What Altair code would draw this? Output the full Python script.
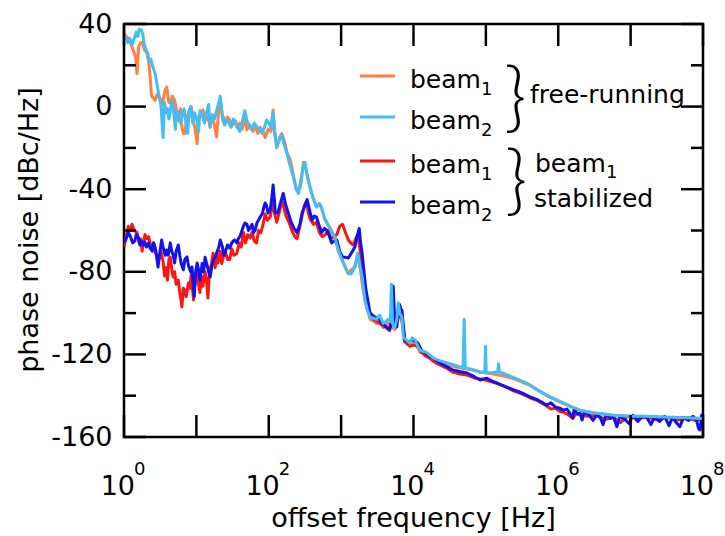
import altair as alt
import pandas as pd

FONT = "DejaVu Sans"
W, H = 579, 413

# (log10 offset frequency, phase noise dBc/Hz)
free_beam1 = [(0.00, 35.5), (0.03, 34), (0.06, 33), (0.10, 30), (0.13, 27), (0.16, 24), (0.18, 16), (0.20, 29),
              (0.23, 31), (0.25, 31), (0.29, 27), (0.33, 26), (0.36, 15), (0.38, 5), (0.41, 4), (0.43, 3),
              (0.46, 6), (0.50, 4), (0.53, 1), (0.56, 7), (0.59, 9.5), (0.62, 2), (0.64, 1.7), (0.67, 5),
              (0.70, 3), (0.73, -3), (0.76, -7), (0.78, -1), (0.80, -10), (0.82, -13), (0.84, -13), (0.87, -5),
              (0.90, -2), (0.93, 0), (0.96, -8), (0.98, -10), (1.01, -18), (1.03, -6), (1.06, -3), (1.09, -1.6),
              (1.12, -7), (1.16, -5), (1.19, -10), (1.22, -4), (1.25, -9), (1.28, -14.7), (1.30, -5), (1.33, 3),
              (1.36, -4), (1.40, -8), (1.43, -5), (1.46, -6.5), (1.50, -9), (1.53, -7), (1.56, -10), (1.60, -8),
              (1.63, -11), (1.67, -6), (1.70, -11.3), (1.74, -9), (1.78, -12), (1.82, -10), (1.85, -13),
              (1.88, -10), (1.92, -12), (1.95, -15), (1.99, -11), (2.03, -12), (2.06, -1.6), (2.08, -13),
              (2.11, -20), (2.15, -15), (2.18, -13), (2.22, -17), (2.25, -22), (2.30, -26), (2.34, -33),
              (2.38, -40), (2.41, -41), (2.45, -35), (2.48, -27), (2.51, -30), (2.54, -35), (2.57, -39),
              (2.61, -44), (2.66, -48.6), (2.70, -47), (2.73, -49), (2.77, -54), (2.80, -56), (2.85, -59),
              (2.91, -63), (2.96, -70), (3.01, -74), (3.06, -78), (3.10, -81), (3.14, -79), (3.19, -78),
              (3.23, -72), (3.27, -80), (3.30, -88), (3.33, -94), (3.37, -99), (3.40, -103), (3.45, -104),
              (3.49, -105), (3.53, -103), (3.58, -107), (3.62, -105), (3.65, -105), (3.68, -106), (3.74, -108),
              (3.79, -100), (3.84, -104), (3.87, -113), (3.95, -116), (4.02, -114), (4.09, -119), (4.18, -120),
              (4.27, -122.5), (4.46, -125), (4.64, -126.5), (4.80, -127.5), (4.95, -128.8), (5.10, -129.5),
              (5.25, -130.5), (5.40, -132), (5.61, -135), (5.84, -140), (6.07, -143.8), (6.30, -147),
              (6.53, -148.5), (6.76, -149.5), (7.00, -150), (7.22, -150.2), (7.50, -150.5), (7.70, -150.6),
              (8.00, -151)]

free_beam2 = [(0.00, 34), (0.03, 33), (0.05, 31), (0.08, 33), (0.11, 30), (0.14, 33), (0.17, 36), (0.19, 34),
              (0.21, 37.5), (0.24, 37), (0.26, 35), (0.28, 30), (0.31, 27), (0.34, 22), (0.37, 23), (0.40, 19),
              (0.43, 16), (0.46, 10), (0.49, 4), (0.51, 1), (0.54, -15), (0.56, 2), (0.58, -3), (0.60, -1),
              (0.62, -6), (0.65, 0), (0.67, 3), (0.69, -4), (0.71, -11), (0.73, -2), (0.76, -3), (0.78, -8),
              (0.80, -5), (0.83, -1), (0.86, -9), (0.88, -13), (0.90, -2), (0.92, 0), (0.95, -8), (0.97, -3),
              (1.00, -5), (1.03, -12), (1.05, -2), (1.08, -4), (1.11, -8), (1.14, -3), (1.17, 1), (1.19, -10),
              (1.22, -4), (1.25, -6), (1.28, -2), (1.31, 2), (1.33, 5), (1.36, -6), (1.39, -9), (1.42, -6),
              (1.45, -8), (1.48, -10), (1.51, -6), (1.54, -7), (1.57, -10), (1.60, -12), (1.63, -8), (1.67, -2),
              (1.70, -7), (1.73, -9), (1.76, -11), (1.80, -8), (1.84, -10), (1.88, -11.3), (1.91, -13),
              (1.94, -10), (1.97, -6.5), (2.00, -8), (2.03, -10), (2.06, -3), (2.09, -14), (2.11, -19.6),
              (2.15, -16), (2.18, -13.7), (2.21, -18), (2.25, -22.5), (2.29, -28), (2.34, -34), (2.38, -40),
              (2.41, -42), (2.44, -38), (2.47, -30), (2.50, -27), (2.53, -33), (2.57, -39), (2.61, -44),
              (2.66, -48.6), (2.70, -47), (2.73, -49), (2.77, -54), (2.80, -56), (2.86, -60), (2.91, -63),
              (2.96, -69), (3.01, -74), (3.06, -78), (3.10, -80.6), (3.14, -81), (3.17, -79), (3.20, -76),
              (3.23, -71), (3.26, -77), (3.29, -82.5), (3.33, -93.7), (3.36, -98), (3.40, -102), (3.45, -102.5),
              (3.49, -103), (3.53, -101), (3.58, -105), (3.62, -104), (3.65, -103), (3.68, -104), (3.695, -86),
              (3.71, -105), (3.74, -107), (3.77, -103), (3.79, -95), (3.81, -100), (3.84, -102), (3.86, -111.6),
              (3.90, -113), (3.95, -114.5), (3.98, -112), (4.02, -113), (4.06, -116), (4.09, -118),
              (4.13, -118.5), (4.18, -119), (4.23, -120.5), (4.27, -121.7), (4.36, -123), (4.46, -124),
              (4.55, -125), (4.64, -126), (4.685, -126.3), (4.70, -103), (4.715, -126.5), (4.80, -127.2),
              (4.92, -128.5), (4.985, -128.7), (4.995, -116), (5.005, -128.9), (5.10, -128.8), (5.165, -128.5),
              (5.175, -124.5), (5.185, -128.5), (5.26, -129.5), (5.37, -131), (5.49, -132.8), (5.61, -134.8),
              (5.72, -137.3), (5.84, -139.7), (5.96, -141.8), (6.07, -143.5), (6.19, -145.5), (6.30, -147),
              (6.42, -148), (6.53, -148.5), (6.76, -149.5), (7.00, -149.9), (7.22, -150), (7.45, -150.3),
              (7.68, -150.5), (7.85, -150.8), (7.96, -151), (8.00, -151)]

stab_beam1 = [(0.00, -68), (0.03, -63), (0.06, -58), (0.09, -60), (0.11, -57), (0.14, -60), (0.18, -61),
              (0.21, -66), (0.23, -64), (0.25, -70), (0.27, -66), (0.29, -62), (0.32, -64), (0.34, -63),
              (0.36, -66), (0.39, -68), (0.41, -66), (0.43, -70.5), (0.45, -72), (0.47, -76), (0.49, -73),
              (0.51, -70), (0.54, -75), (0.56, -82), (0.58, -78), (0.60, -84), (0.62, -74), (0.64, -73),
              (0.66, -79), (0.68, -82.5), (0.70, -80), (0.72, -86), (0.75, -84), (0.77, -90), (0.79, -94),
              (0.80, -97), (0.82, -88), (0.84, -89), (0.86, -92), (0.89, -85.4), (0.91, -88), (0.93, -81),
              (0.96, -93.6), (0.98, -86), (1.00, -80), (1.02, -84), (1.05, -90), (1.07, -82), (1.09, -87),
              (1.12, -80), (1.14, -84), (1.16, -92.7), (1.18, -80), (1.21, -76), (1.23, -71), (1.26, -78),
              (1.28, -72), (1.30, -75.7), (1.33, -70), (1.35, -76), (1.37, -73), (1.40, -70), (1.43, -74),
              (1.46, -74), (1.49, -69), (1.52, -72), (1.56, -71), (1.59, -66), (1.62, -68), (1.65, -61),
              (1.68, -66), (1.71, -62), (1.74, -63.6), (1.77, -61), (1.80, -65), (1.83, -66), (1.86, -60),
              (1.89, -61), (1.92, -57.3), (1.95, -52), (1.98, -55), (2.02, -53.5), (2.05, -46), (2.07, -50),
              (2.11, -56), (2.14, -52), (2.18, -46), (2.21, -49), (2.24, -53), (2.28, -56), (2.32, -60),
              (2.36, -63), (2.39, -64), (2.43, -58), (2.46, -53), (2.49, -48), (2.52, -46), (2.55, -52),
              (2.58, -55), (2.62, -57), (2.66, -56), (2.70, -61), (2.74, -63), (2.78, -62), (2.82, -60),
              (2.86, -64), (2.90, -63), (2.94, -62), (2.98, -58), (3.02, -57), (3.06, -61), (3.10, -64.6),
              (3.13, -66), (3.17, -67), (3.20, -64), (3.23, -62), (3.26, -69), (3.29, -80), (3.33, -92),
              (3.36, -97), (3.40, -100), (3.45, -103), (3.49, -104), (3.53, -105), (3.58, -106), (3.62, -107),
              (3.67, -108.5), (3.72, -96), (3.75, -107), (3.80, -100), (3.84, -103), (3.88, -114), (3.95, -116),
              (4.00, -115.5), (4.06, -116), (4.11, -119), (4.18, -121), (4.23, -122), (4.30, -124), (4.36, -125),
              (4.45, -126.5), (4.54, -128.5), (4.64, -129.5), (4.74, -130), (4.85, -131.5), (4.95, -132),
              (5.05, -133), (5.15, -134), (5.26, -135.5), (5.37, -137.5), (5.49, -139), (5.61, -141),
              (5.72, -142.5), (5.84, -145), (5.90, -146.5), (5.96, -146), (6.02, -147.5), (6.07, -148),
              (6.13, -149), (6.20, -151), (6.25, -148.5), (6.30, -149), (6.40, -150), (6.53, -149.5),
              (6.65, -151.5), (6.76, -150.5), (6.86, -153), (6.95, -150), (7.10, -151), (7.22, -150.5),
              (7.35, -151.5), (7.50, -150.5), (7.65, -151.8), (7.80, -150.8), (7.90, -152), (8.00, -151)]

stab_beam2 = [(0.00, -66), (0.03, -64), (0.06, -61), (0.09, -63), (0.12, -66), (0.15, -65), (0.17, -62),
              (0.20, -63.6), (0.22, -67), (0.24, -65), (0.27, -67), (0.29, -65.6), (0.31, -68), (0.34, -66),
              (0.36, -68.5), (0.39, -70), (0.41, -66), (0.43, -68), (0.45, -72), (0.47, -77.7), (0.49, -72),
              (0.52, -64.6), (0.54, -68), (0.57, -72), (0.59, -69.4), (0.61, -72), (0.64, -66), (0.66, -70),
              (0.68, -72), (0.70, -75.7), (0.72, -70), (0.75, -67), (0.77, -72), (0.79, -76), (0.82, -79),
              (0.84, -74), (0.87, -72.8), (0.89, -77), (0.92, -80), (0.94, -77.7), (0.97, -92), (0.99, -80),
              (1.01, -75.7), (1.03, -79), (1.05, -84), (1.08, -76), (1.10, -80), (1.12, -73), (1.15, -77),
              (1.17, -80), (1.19, -82.5), (1.22, -76), (1.24, -74), (1.26, -72.8), (1.29, -70), (1.31, -68),
              (1.33, -64.6), (1.36, -68), (1.38, -72), (1.40, -70.4), (1.43, -67), (1.46, -68.5), (1.49, -66),
              (1.51, -65), (1.53, -64.6), (1.56, -66), (1.58, -64), (1.60, -63), (1.63, -60), (1.65, -58),
              (1.67, -56.4), (1.70, -57), (1.72, -60), (1.74, -59), (1.77, -57), (1.79, -61), (1.81, -60),
              (1.84, -56), (1.86, -55), (1.88, -53.5), (1.91, -52), (1.93, -49), (1.95, -46.7), (1.97, -48),
              (1.99, -51.5), (2.02, -50), (2.04, -45), (2.06, -38), (2.08, -46), (2.09, -51.5), (2.11, -51.5),
              (2.13, -51), (2.16, -47), (2.20, -42), (2.23, -47), (2.27, -51.5), (2.31, -56), (2.35, -59),
              (2.39, -61), (2.43, -57), (2.46, -51.5), (2.50, -48), (2.53, -45), (2.57, -51), (2.60, -55),
              (2.63, -53), (2.66, -53.5), (2.70, -58), (2.73, -61), (2.77, -59), (2.80, -59.8), (2.84, -63),
              (2.87, -66), (2.91, -65), (2.94, -64.6), (2.98, -70), (3.02, -72.8), (3.06, -73), (3.10, -73.3),
              (3.14, -71), (3.19, -68), (3.22, -63), (3.25, -59), (3.27, -66), (3.29, -71), (3.31, -78),
              (3.34, -88), (3.37, -94), (3.40, -100), (3.45, -101.5), (3.49, -102.4), (3.53, -103),
              (3.56, -104.8), (3.60, -106), (3.64, -107), (3.67, -108), (3.70, -104), (3.72, -87), (3.74, -104),
              (3.77, -106.7), (3.79, -100), (3.81, -96), (3.83, -99), (3.84, -98.5), (3.86, -106), (3.88, -113),
              (3.93, -114), (3.98, -113), (4.02, -113.5), (4.06, -114.5), (4.11, -118), (4.17, -119.5),
              (4.23, -121), (4.30, -122.5), (4.36, -124), (4.45, -125.8), (4.54, -127.5), (4.64, -128.3),
              (4.74, -129), (4.84, -130.8), (4.92, -132.4), (5.01, -131.5), (5.08, -132.8), (5.15, -133.8),
              (5.26, -135.5), (5.37, -137), (5.49, -138.5), (5.61, -140.6), (5.70, -141.8), (5.79, -143.5),
              (5.84, -144.5), (5.90, -143.5), (5.96, -145.5), (6.02, -146), (6.07, -147), (6.12, -146.5),
              (6.17, -149), (6.20, -150.8), (6.22, -146.5), (6.27, -149), (6.30, -148.4), (6.33, -151.8),
              (6.36, -148), (6.42, -149), (6.48, -152), (6.53, -149.4), (6.58, -150.5), (6.62, -154),
              (6.66, -149), (6.72, -151), (6.76, -150), (6.81, -155), (6.85, -150), (6.92, -151.5),
              (6.98, -153.5), (7.03, -149.5), (7.10, -152.5), (7.16, -150), (7.22, -150.3), (7.28, -154),
              (7.33, -150.5), (7.40, -152.5), (7.47, -150), (7.53, -154.5), (7.58, -150.5), (7.63, -153),
              (7.68, -155), (7.73, -150.5), (7.80, -152), (7.86, -150), (7.91, -151.8), (7.94, -156),
              (7.96, -156.6), (7.98, -149.5), (8.00, -153)]

series_colors = {"free1": "#FF8040", "free2": "#42BDF5", "stab1": "#FF1414", "stab2": "#1212EE"}

y_major = [40, 0, -40, -80, -120, -160]
y_minor = [20, -20, -60, -100, -140]
x_tick_exps = [0, 1, 2, 3, 4, 5, 6, 7, 8]
x_label_exps = [0, 2, 4, 6, 8]

legend_rows = [("free1", "1"), ("free2", "2"), ("stab1", "1"), ("stab2", "2")]
group_texts = ["free-running", "beam", "stabilized"]


def df_of(pairs):
    return pd.DataFrame({"f": [10.0 ** e for e, _ in pairs], "v": [v for _, v in pairs]})


xs = alt.Scale(type="log", domain=[1, 1e8])
ys = alt.Scale(domain=[-160, 40])
yaxis = alt.Axis(values=y_major, ticks=False, domain=False, grid=False, labelFont=FONT,
                 labelFontSize=27, labelColor="black", labelPadding=12, title=None,
                 labelExpr="'' + datum.value")
XE = alt.X("f:Q", scale=xs, axis=None)
YE = alt.Y("v:Q", scale=ys, axis=yaxis)

layers = []
for pairs, key in [(free_beam1, "free1"), (stab_beam1, "stab1"), (stab_beam2, "stab2"), (free_beam2, "free2")]:
    layers.append(alt.Chart(df_of(pairs)).mark_line(color=series_colors[key], strokeWidth=3, clip=True,
                                                    strokeJoin="round")
                  .encode(x=XE, y=YE))

# y ticks (inward) left and right
for vals, ln in [(y_major, 22), (y_minor, 12)]:
    d = pd.DataFrame({"v": vals})
    layers.append(alt.Chart(d).mark_rule(color="black", strokeWidth=2.5)
                  .encode(y=YE, x=alt.value(0), x2=alt.value(ln)))
    layers.append(alt.Chart(d).mark_rule(color="black", strokeWidth=2.5)
                  .encode(y=YE, x=alt.value(W), x2=alt.value(W - ln)))

# x ticks (inward) bottom and top
dx = pd.DataFrame({"f": [10.0 ** k for k in x_tick_exps]})
layers.append(alt.Chart(dx).mark_rule(color="black", strokeWidth=2.5)
              .encode(x=XE, y=alt.value(H), y2=alt.value(H - 22)))
layers.append(alt.Chart(dx).mark_rule(color="black", strokeWidth=2.5)
              .encode(x=XE, y=alt.value(0), y2=alt.value(22)))

# x tick labels 10^k
dl = pd.DataFrame({"f": [10.0 ** k for k in x_label_exps], "e": [str(k) for k in x_label_exps]})
layers.append(alt.Chart(dl).mark_text(text="10", font=FONT, fontSize=27, align="right",
                                      baseline="alphabetic", dx=11, color="black")
              .encode(x=XE, y=alt.value(H + 58)))
layers.append(alt.Chart(dl).mark_text(font=FONT, fontSize=18, align="left",
                                      baseline="alphabetic", dx=10, color="black")
              .encode(x=XE, y=alt.value(H + 38), text="e:N"))

one = pd.DataFrame({"k": [0]})


def label(txt, x, y, size=25, angle=None, align="left", font=FONT, weight=None):
    kw = dict(text=txt, font=font, fontSize=size, align=align, baseline="alphabetic", color="black")
    if angle is not None:
        kw["angle"] = angle
    if weight is not None:
        kw["fontWeight"] = weight
    return alt.Chart(one).mark_text(**kw).encode(x=alt.value(x), y=alt.value(y))


# axis titles
layers.append(label("offset frequency [Hz]", W / 2, H + 90, size=27, align="center"))
layers.append(label("phase noise [dBc/Hz]", -86, 206, size=27, angle=270, align="center"))

# legend
row_y = [52, 93, 137, 178]
for (key, sub), ry in zip(legend_rows, row_y):
    layers.append(alt.Chart(one).mark_rule(color=series_colors[key], strokeWidth=3)
                  .encode(x=alt.value(236), x2=alt.value(271), y=alt.value(ry)))
    layers.append(label("beam", 286, ry + 12))
    layers.append(label(sub, 357, ry + 19, size=18))

layers.append(label("}", 380, 99, size=77, font="Lato", weight=300))
layers.append(label("}", 381, 182, size=76, font="Lato", weight=300))
layers.append(label(group_texts[0], 406, 79))
layers.append(label(group_texts[1], 411, 148))
layers.append(label("1", 482, 154, size=18))
layers.append(label(group_texts[2], 410, 183))

chart = alt.layer(*layers).properties(
    width=W, height=H,
    autosize=alt.AutoSizeParams(type="none"),
    padding={"left": 124, "top": 24, "right": 22, "bottom": 99},
    background="white",
).configure_view(stroke="black", strokeWidth=2.5)

chart.save("out.html", embed_options={"renderer": "svg", "actions": False})
